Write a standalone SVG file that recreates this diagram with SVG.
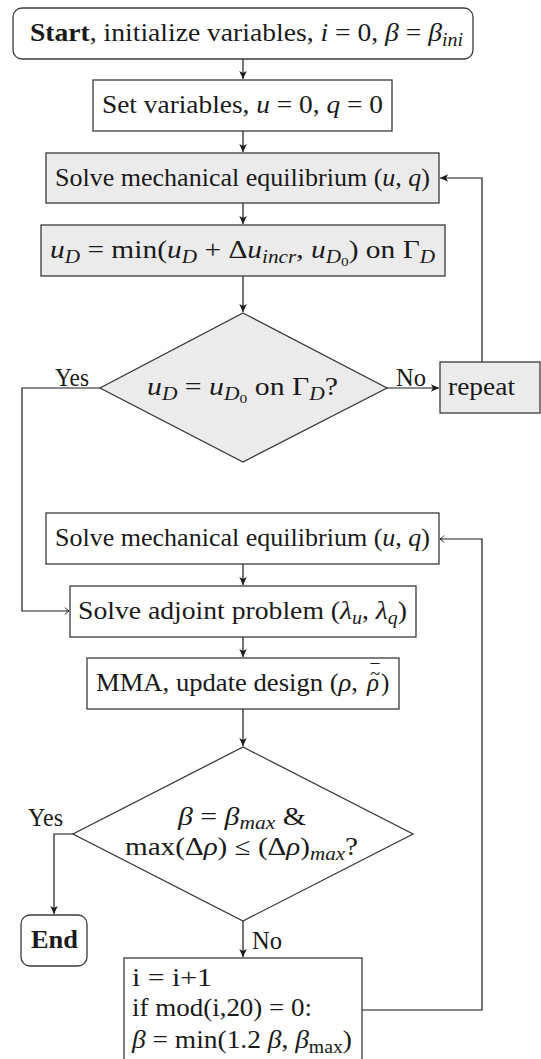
<svg xmlns="http://www.w3.org/2000/svg" width="541" height="1059" viewBox="0 0 541 1059">
<style>
.box{fill:#ffffff;stroke:#3a3a3a;stroke-width:1.3}
.gray{fill:#ebebeb}
.t{font-family:"Liberation Serif","Times New Roman",serif;font-size:25px;fill:#1a1a1a}
.it{font-style:italic}
.sub{font-size:18px}
.ssub{font-size:13px}
.b{font-weight:bold}
.acc{font-family:"Liberation Serif","Times New Roman",serif;font-size:18px;fill:#1a1a1a}
.c{fill:none;stroke:#1a1a1a;stroke-width:1.2}
</style>
<defs>
<marker id="af" markerUnits="userSpaceOnUse" markerWidth="10" markerHeight="10" viewBox="-7 -4 8 8" refX="0" refY="0" orient="auto">
<path d="M0,0 L-6.5,-3 L-4.8,0 L-6.5,3 Z" fill="#1a1a1a"/>
</marker>
<marker id="ao" markerUnits="userSpaceOnUse" markerWidth="10" markerHeight="10" viewBox="-7 -5 8 10" refX="0" refY="0" orient="auto">
<path d="M-4,-3.5 Q-1.5,-0.6 0,0 Q-1.5,0.6 -4,3.5" fill="none" stroke="#1a1a1a" stroke-width="1"/>
</marker>
</defs>

<g id="connectors">
<path class="c" d="M243,59 V79" marker-end="url(#af)"/>
<path class="c" d="M243,131 V152" marker-end="url(#af)"/>
<path class="c" d="M243,203 V224" marker-end="url(#af)"/>
<path class="c" d="M243,276 V312" marker-end="url(#af)"/>
<path class="c" d="M387,388 H439" marker-end="url(#af)"/>
<path class="c" d="M482,362 V178 H440" marker-end="url(#af)"/>
<path class="c" d="M100,388 H22 V611 H69" marker-end="url(#ao)"/>
<path class="c" d="M243,564 V585" marker-end="url(#af)"/>
<path class="c" d="M243,637 V657" marker-end="url(#af)"/>
<path class="c" d="M243,709 V746" marker-end="url(#af)"/>
<path class="c" d="M73,834 H54 V914" marker-end="url(#af)"/>
<path class="c" d="M243,921 V957" marker-end="url(#af)"/>
<path class="c" d="M362,1010 H482 V539 H440" marker-end="url(#ao)"/>
</g>

<g id="start">
<rect class="box" x="13" y="8" width="460" height="51" rx="9"/>
<text class="t" x="30" y="41" textLength="433" lengthAdjust="spacingAndGlyphs"><tspan class="b">Start</tspan>, initialize variables, <tspan class="it">i</tspan> = 0, <tspan class="it">β</tspan> = <tspan class="it">β</tspan><tspan class="it sub" dy="5">ini</tspan></text>
</g>

<g id="setvars">
<rect class="box" x="93" y="80" width="299" height="51"/>
<text class="t" x="102" y="113" textLength="281" lengthAdjust="spacingAndGlyphs">Set variables, <tspan class="it">u</tspan> = 0, <tspan class="it">q</tspan> = 0</text>
</g>

<g id="solve1">
<rect class="box gray" x="46" y="153" width="393" height="50"/>
<text class="t" x="55" y="186" textLength="375" lengthAdjust="spacingAndGlyphs">Solve mechanical equilibrium (<tspan class="it">u</tspan>, <tspan class="it">q</tspan>)</text>
</g>

<g id="increment">
<rect class="box gray" x="41" y="225" width="404" height="51"/>
<text class="t" x="50" y="258" textLength="385" lengthAdjust="spacingAndGlyphs"><tspan class="it">u</tspan><tspan class="it sub" dy="5">D</tspan><tspan dy="-5"> = min(</tspan><tspan class="it">u</tspan><tspan class="it sub" dy="5">D</tspan><tspan dy="-5"> + Δ</tspan><tspan class="it">u</tspan><tspan class="it sub" dy="5">incr</tspan><tspan dy="-5">, </tspan><tspan class="it">u</tspan><tspan class="it sub" dy="5">D</tspan><tspan class="ssub" dy="3">0</tspan><tspan dy="-8">) on Γ</tspan><tspan class="it sub" dy="5">D</tspan></text>
</g>

<g id="check1">
<polygon class="box gray" points="243,313 387,388 243,462 100,388"/>
<text class="t" x="147" y="395" textLength="191" lengthAdjust="spacingAndGlyphs"><tspan class="it">u</tspan><tspan class="it sub" dy="5">D</tspan><tspan dy="-5"> = </tspan><tspan class="it">u</tspan><tspan class="it sub" dy="5">D</tspan><tspan class="ssub" dy="3">0</tspan><tspan dy="-8"> on Γ</tspan><tspan class="it sub" dy="5">D</tspan><tspan dy="-5">?</tspan></text>
</g>

<g id="labels1">
<text class="t" x="55" y="386" textLength="34" lengthAdjust="spacingAndGlyphs">Yes</text>
<text class="t" x="396" y="386" textLength="30" lengthAdjust="spacingAndGlyphs">No</text>
</g>

<g id="repeat">
<rect class="box gray" x="440" y="362" width="100" height="51"/>
<text class="t" x="448" y="395" textLength="67" lengthAdjust="spacingAndGlyphs">repeat</text>
</g>

<g id="solve2">
<rect class="box" x="46" y="513" width="393" height="51"/>
<text class="t" x="55" y="546" textLength="375" lengthAdjust="spacingAndGlyphs">Solve mechanical equilibrium (<tspan class="it">u</tspan>, <tspan class="it">q</tspan>)</text>
</g>

<g id="adjoint">
<rect class="box" x="70" y="586" width="346" height="51"/>
<text class="t" x="78" y="619" textLength="329" lengthAdjust="spacingAndGlyphs">Solve adjoint problem (<tspan class="it">λ</tspan><tspan class="it sub" dy="5">u</tspan><tspan dy="-5">, </tspan><tspan class="it">λ</tspan><tspan class="it sub" dy="5">q</tspan><tspan dy="-5">)</tspan></text>
</g>

<g id="mma">
<rect class="box" x="87" y="658" width="312" height="51"/>
<text class="t" x="96" y="691" textLength="262" lengthAdjust="spacingAndGlyphs">MMA, update design (<tspan class="it">ρ</tspan>,</text>
<text class="t it" x="367" y="691">ρ<tspan class="acc" dx="-9" dy="-11">~</tspan></text>
<text class="t" x="381" y="691">)</text>
<text class="acc" x="375" y="677" text-anchor="middle">¯</text>
</g>

<g id="check2">
<polygon class="box" points="243,747 413,834 243,921 73,834"/>
<text class="t" x="178" y="825" textLength="128" lengthAdjust="spacingAndGlyphs"><tspan class="it">β</tspan> = <tspan class="it">β</tspan><tspan class="it sub" dy="4">max</tspan><tspan dy="-4"> &amp;</tspan></text>
<text class="t" x="125" y="855" textLength="233" lengthAdjust="spacingAndGlyphs">max(Δ<tspan class="it">ρ</tspan>) ≤ (Δ<tspan class="it">ρ</tspan>)<tspan class="it sub" dy="5">max</tspan><tspan dy="-5">?</tspan></text>
</g>

<g id="labels2">
<text class="t" x="28" y="826" textLength="35" lengthAdjust="spacingAndGlyphs">Yes</text>
<text class="t" x="252" y="949" textLength="30" lengthAdjust="spacingAndGlyphs">No</text>
</g>

<g id="end">
<rect class="box" x="21" y="915" width="66" height="51" rx="9"/>
<text class="t b" x="31" y="948" textLength="47" lengthAdjust="spacingAndGlyphs">End</text>
</g>

<g id="update">
<rect class="box" x="124" y="958" width="238" height="110"/>
<text class="t" x="132" y="986" textLength="80" lengthAdjust="spacingAndGlyphs">i = i+1</text>
<text class="t" x="132" y="1016" textLength="180" lengthAdjust="spacingAndGlyphs">if mod(i,20) = 0:</text>
<text class="t" x="132" y="1048" textLength="220" lengthAdjust="spacingAndGlyphs"><tspan class="it">β</tspan> = min(1.2 <tspan class="it">β</tspan>, <tspan class="it">β</tspan><tspan class="sub" dy="5">max</tspan><tspan dy="-5">)</tspan></text>
</g>
</svg>
